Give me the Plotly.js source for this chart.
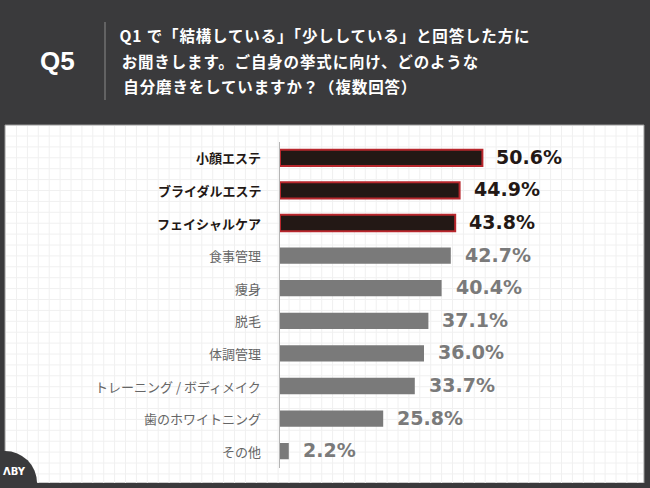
<!DOCTYPE html>
<html><head><meta charset="utf-8">
<script src="https://cdn.plot.ly/plotly-3.0.1.min.js"></script>
<style>html,body{margin:0;padding:0;background:#3a3a3c;}#chart{width:650px;height:488px;}
g.annotation[data-index="1"] text, g.annotation[data-index="2"] text, g.annotation[data-index="3"] text{letter-spacing:0.85px;}
</style>
</head><body><div id="chart"></div>
<script>
const categories = ["小顔エステ","ブライダルエステ","フェイシャルケア","食事管理","痩身","脱毛","体調管理","トレーニング / ボディメイク","歯のホワイトニング","その他"];
const values = [50.6,44.9,43.8,42.7,40.4,37.1,36.0,33.7,25.8,2.2];
const valueLabels = ["50.6%","44.9%","43.8%","42.7%","40.4%","37.1%","36.0%","33.7%","25.8%","2.2%"];
const highlightCount = 3;
const questionNo = "Q5";
const questionLines = ["Q1 で「結構している」「少ししている」と回答した方に","お聞きします。ご自身の挙式に向け、どのような","自分磨きをしていますか？（複数回答）"];

const W = 650, H = 488;
const px = x => x / W, py = y => 1 - y / H;
const DARK = "#231815", RED = "#b8272d", GRAY = "#7a7a7a", BG = "#3a3a3c";
const JP = "Noto Sans CJK JP, sans-serif";

const isHi = i => i < highlightCount;
const trace = {
  type: "bar", orientation: "h", x: values, y: categories, width: 0.5,
  marker: {
    color: values.map((v,i)=> isHi(i)?DARK:GRAY),
    line: {color: values.map((v,i)=> isHi(i)?RED:GRAY), width: values.map((v,i)=> isHi(i)?2:0)}
  },
  hoverinfo: "none", cliponaxis: false
};

const shapes = [];
shapes.push({type:"rect", xref:"paper", yref:"paper", x0:px(5), x1:px(644), y0:py(483), y1:py(125), fillcolor:"#ffffff", line:{color:"#9a9a9a", width:1}, layer:"below"});
for (let x = 16.5; x < 643; x += 10.9) shapes.push({type:"line", xref:"paper", yref:"paper", x0:px(x), x1:px(x), y0:py(483), y1:py(126), line:{color:"#f0f0f0", width:1}, layer:"below"});
for (let y = 136; y < 483; y += 10.9) shapes.push({type:"line", xref:"paper", yref:"paper", x0:px(6), x1:px(643), y0:py(y), y1:py(y), line:{color:"#f0f0f0", width:1}, layer:"below"});
shapes.push({type:"line", xref:"paper", yref:"paper", x0:px(105), x1:px(105), y0:py(22), y1:py(100), line:{color:"#8a8a8a", width:1}});
shapes.push({type:"circle", xref:"paper", yref:"paper", x0:px(5-32), x1:px(5+32), y0:py(483+32), y1:py(483-32), fillcolor:BG, line:{width:0}});
shapes.push({type:"rect", xref:"paper", yref:"paper", x0:0, x1:1, y0:0, y1:py(483), fillcolor:BG, line:{width:0}});

const annotations = [];
annotations.push({xref:"paper", yref:"paper", x:px(58), y:py(61), text:"<b>"+questionNo+"</b>", showarrow:false, font:{family:"Liberation Sans, Arial, sans-serif", size:26, color:"#ffffff"}, xanchor:"center", yanchor:"middle"});
questionLines.forEach((t,k)=>annotations.push({xref:"paper", yref:"paper", x:px(129), y:py(35+25.5*k), text:"<b>"+t+"</b>", showarrow:false, font:{family:JP, size:15.5, color:"#ffffff"}, xanchor:"left", yanchor:"middle"}));
categories.forEach((c,i)=>{
  annotations.push({xref:"paper", yref:"y", x:px(263), y:c, text: isHi(i)?"<b>"+c+"</b>":c, showarrow:false, font:{family:JP, size:13, color: isHi(i)?DARK:"#666666"}, xanchor:"right", yanchor:"middle"});
  annotations.push({xref:"x", yref:"y", x:values[i], y:c, text:"<b>"+valueLabels[i]+"</b>", showarrow:false, xshift:12, yshift:1, font:{family:"DejaVu Sans, sans-serif", size:19, color: isHi(i)?DARK:GRAY}, xanchor:"left", yanchor:"middle"});
});
annotations.push({xref:"paper", yref:"paper", x:px(14), y:py(471), text:"<b>ΛBY</b>", showarrow:false, font:{family:"DejaVu Sans, sans-serif", size:10, color:"#ffffff"}, xanchor:"center", yanchor:"middle"});

const layout = {
  width: W, height: H, margin:{l:0,r:0,t:0,b:0},
  paper_bgcolor: BG, plot_bgcolor: "rgba(0,0,0,0)",
  showlegend:false,
  xaxis:{domain:[px(280), px(640)], range:[0,90], visible:false, fixedrange:true},
  yaxis:{domain:[py(467.5), py(141.5)], type:"category", autorange:"reversed", range:[9.5,-0.5], showticklabels:false, showgrid:false, zeroline:false, showline:true, linecolor:"#b5b5b5", linewidth:1, ticks:"", fixedrange:true},
  shapes, annotations, bargap:0.5
};
Plotly.newPlot("chart", [trace], layout, {displayModeBar:false, staticPlot:true});
</script></body></html>
